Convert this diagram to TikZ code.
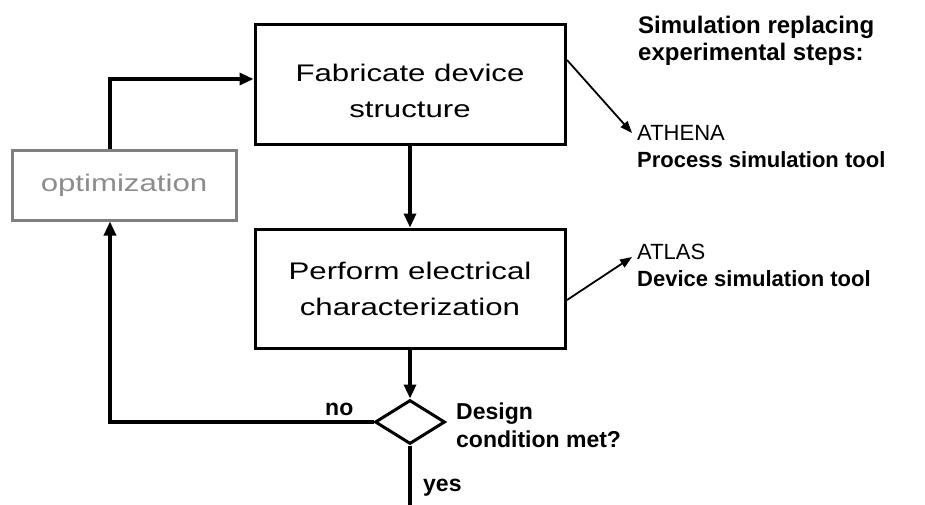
\documentclass[tikz,border=0pt]{standalone}
\usepackage{fontspec}
\setmainfont{Liberation Sans}
\newfontfamily\widefont{Liberation Sans}[FakeStretch=1.3]
\usetikzlibrary{shapes.geometric,arrows.meta}

\tikzset{
  stepbox/.style={draw, line width=3pt, minimum width=310pt, align=center,
    inner sep=0pt, font=\widefont\fontsize{24}{36}\selectfont},
  optbox/.style={draw=black!50, line width=3pt, minimum width=224pt,
    minimum height=69pt, inner sep=0pt, text=black!45,
    font=\widefont\fontsize{24}{36}\selectfont},
  decision/.style={draw, diamond, line width=3pt, minimum width=70pt,
    minimum height=44pt, inner sep=0pt},
  flow/.style={line width=3.2pt, -{Triangle[length=14pt,width=12pt]}},
  plainline/.style={line width=3.2pt},
  tool/.style={line width=1.8pt, -{Triangle[length=12pt,width=9pt]}},
  note/.style={anchor=north west, inner sep=0pt, align=left},
  heading/.style={note, font=\bfseries\fontsize{24}{27}\selectfont},
  toolnote/.style={note, font=\fontsize{22}{27}\selectfont},
  answer/.style={anchor=base west, inner sep=0pt,
    font=\bfseries\fontsize{23}{28}\selectfont},
}

\begin{document}
\begin{tikzpicture}[x=1pt, y=-1pt]
\useasboundingbox (0,0) rectangle (925,505);

% process steps (the strut sets the first line a little lower in its box)
\node[stepbox, minimum height=120pt] (fab) at (410,85)
  {\rule{0pt}{29pt}Fabricate device\\structure};
\node[stepbox, minimum height=119pt] (perf) at (410,288.5) {Perform electrical\\characterization};
\node[optbox] (opt) at (124,185.5) {optimization};
\node[decision] (dec) at (410,422) {};

% side notes
\node[heading] (head) at (638,16) {Simulation replacing\\experimental steps:};
\node[toolnote] (athena) at (637,125) {ATHENA\\\textbf{Process simulation tool}};
\node[toolnote] (atlas) at (637,244) {ATLAS\\\textbf{Device simulation tool}};
\node[note, font=\bfseries\fontsize{23}{28}\selectfont] (cond) at (456,403) {Design\\condition met?};
\node[answer] (no) at (325,415) {no};
\node[answer] (yes) at (423,491) {yes};

% connector corners
\coordinate (loopL) at (110,422);
\coordinate (loopT) at (110,79);
\coordinate (exit) at (410,505);
\coordinate (fabOut) at (567,60);
\coordinate (athTip) at (632,133);
\coordinate (perfOut) at (567,300);
\coordinate (atlTip) at (632,257);

% main flow
\draw[flow] (fab.south) -- (perf.north);
\draw[flow] (perf.south) -- (dec.north);
\draw[plainline] (dec.south) -- (exit);

% feedback loop
\draw[flow] (dec.west) -- (loopL) -- (loopL |- opt.south);
\draw[flow] (loopL |- opt.north) -- (loopT) -- (loopT -| fab.west);

% tools
\draw[tool] (fabOut) -- (athTip);
\draw[tool] (perfOut) -- (atlTip);
\end{tikzpicture}
\end{document}
